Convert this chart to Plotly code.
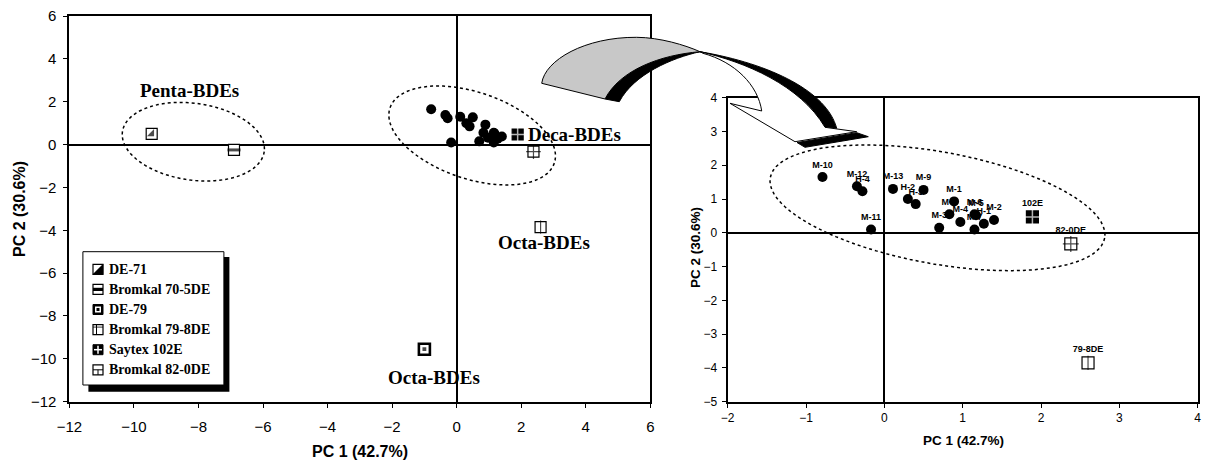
import math
import plotly.graph_objects as go

# ---------------- data ----------------
sample_labels = ["M-1", "M-2", "M-3", "M-4", "M-5", "M-6", "M-7", "M-8", "M-9",
                 "M-10", "M-11", "M-12", "M-13", "H-1", "H-2", "H-3", "H-4"]
sample_pc1 = [0.89, 1.40, 0.70, 0.97, 1.17, 1.15, 1.15, 0.83, 0.50,
              -0.79, -0.17, -0.35, 0.11, 1.27, 0.30, 0.40, -0.28]
sample_pc2 = [0.93, 0.38, 0.15, 0.32, 0.52, 0.55, 0.10, 0.55, 1.27,
              1.65, 0.10, 1.38, 1.30, 0.27, 1.00, 0.85, 1.23]

product_names = ["DE-71", "Bromkal 70-5DE", "DE-79", "Bromkal 79-8DE",
                 "Saytex 102E", "Bromkal 82-0DE"]
product_short = ["", "", "", "79-8DE", "102E", "82-0DE"]
product_pc1 = [-9.45, -6.90, -1.00, 2.60, 1.89, 2.38]
product_pc2 = [0.50, -0.25, -9.55, -3.85, 0.47, -0.33]

group_labels = ["Penta-BDEs", "Deca-BDEs", "Octa-BDEs", "Octa-BDEs"]
group_x = [-8.28, 3.65, 2.71, -0.69]
group_y = [2.51, 0.49, -4.56, -10.88]

left_x_ticks = [-12, -10, -8, -6, -4, -2, 0, 2, 4, 6]
left_y_ticks = [-12, -10, -8, -6, -4, -2, 0, 2, 4, 6]
right_x_ticks = [-2, -1, 0, 1, 2, 3, 4]
right_y_ticks = [-5, -4, -3, -2, -1, 0, 1, 2, 3, 4]

x_title = "PC 1 (42.7%)"
y_title = "PC 2 (30.6%)"

# ---------------- styles ----------------
# pattern style of each product's square (same order as product_names)
base_fill = ["white", "white", "white", "white", "black", "white"]
base_lw = [1.2, 1.2, 2.6, 1.2, 1.2, 1.2]
over_symbol = ["triangle-se", "line-ew", "square", "line-ns", "cross-thin", "cross-thin"]
over_color = ["black", "black", "black", "black", "white", "black"]
over_lw = [0, 3, 0, 1.2, 1.5, 1.2]
over_scale = [0.72, 0.85, 0.35, 0.85, 0.95, 0.95]
legend_kind = ["diag", "band", "ring", "vline", "checker", "cross"]

W, H = 1208, 463
L_PLOT = (69.4, 650.3, 16, 401.7)       # left, right, top, bottom (px)
R_PLOT = (727.7, 1197.7, 97.7, 401.7)


def dom_x(p):
    return [p[0] / W, p[1] / W]


def dom_y(p):
    return [1 - p[3] / H, 1 - p[2] / H]


def paper(x, y):
    return x / W, 1 - y / H


SANS = "Arial, Liberation Sans, sans-serif"
SERIF = "Times New Roman, Liberation Serif, serif"

fig = go.Figure()


def add_products(xa, ya, size):
    fig.add_trace(go.Scatter(
        x=product_pc1, y=product_pc2, mode="markers",
        marker=dict(symbol="square", size=size, color=base_fill,
                    line=dict(color="black", width=base_lw)),
        xaxis=xa, yaxis=ya, showlegend=False, hoverinfo="skip"))
    fig.add_trace(go.Scatter(
        x=product_pc1, y=product_pc2, mode="markers",
        marker=dict(symbol=over_symbol, size=[size * s for s in over_scale],
                    color=over_color,
                    line=dict(color=over_color, width=over_lw)),
        xaxis=xa, yaxis=ya, showlegend=False, hoverinfo="skip"))


# ---- left panel ----
fig.add_trace(go.Scatter(
    x=sample_pc1, y=sample_pc2, mode="markers",
    marker=dict(symbol="circle", size=10, color="black"),
    xaxis="x", yaxis="y", showlegend=False, hoverinfo="skip"))
add_products("x", "y", 11)

# ---- right panel ----
fig.add_trace(go.Scatter(
    x=sample_pc1, y=sample_pc2, mode="markers+text", text=sample_labels,
    textposition="top center",
    textfont=dict(family=SANS, size=9, color="black", weight="bold"),
    marker=dict(symbol="circle", size=10, color="black"),
    xaxis="x2", yaxis="y2", showlegend=False, hoverinfo="skip"))
add_products("x2", "y2", 12)
fig.add_trace(go.Scatter(
    x=product_pc1, y=product_pc2, mode="markers+text", text=product_short,
    textposition="top center",
    textfont=dict(family=SANS, size=9, color="black", weight="bold"),
    marker=dict(size=12, color="rgba(0,0,0,0)"),
    xaxis="x2", yaxis="y2", showlegend=False, hoverinfo="skip"))

axis_common = dict(showgrid=False, zeroline=True, zerolinecolor="black",
                   zerolinewidth=1.5, showline=True, linecolor="black",
                   linewidth=2, mirror=True, ticks="outside", ticklen=4,
                   tickcolor="black", tickwidth=1, automargin=False)

fig.update_layout(
    template="none",
    width=W, height=H,
    margin=dict(l=0, r=0, t=0, b=0, pad=0),
    paper_bgcolor="white", plot_bgcolor="white",
    showlegend=False,
    xaxis=dict(axis_common, domain=dom_x(L_PLOT), anchor="y", range=[-12, 6],
               tickvals=left_x_ticks, ticklabelstandoff=6,
               tickfont=dict(family=SANS, size=15, color="black")),
    yaxis=dict(axis_common, domain=dom_y(L_PLOT), anchor="x", range=[-12, 6],
               tickvals=left_y_ticks, ticklabelstandoff=4,
               tickfont=dict(family=SANS, size=15, color="black")),
    xaxis2=dict(axis_common, domain=dom_x(R_PLOT), anchor="y2", range=[-2, 4],
                tickvals=right_x_ticks,
                tickfont=dict(family=SANS, size=12, color="black")),
    yaxis2=dict(axis_common, domain=dom_y(R_PLOT), anchor="x2", range=[-5, 4],
                tickvals=right_y_ticks, ticklabelstandoff=2,
                tickfont=dict(family=SANS, size=12, color="black")),
)

annotations = []
# axis titles
for (px, py, txt, ang, fs) in [(360, 451.7, x_title, 0, 16),
                               (19, 209, y_title, -90, 16),
                               (963, 440, x_title, 0, 13.5),
                               (695, 248, y_title, -90, 13.5)]:
    ax_, ay_ = paper(px, py)
    annotations.append(dict(x=ax_, y=ay_, xref="paper", yref="paper",
                            text="<b>%s</b>" % txt, showarrow=False,
                            textangle=ang, xanchor="center", yanchor="middle",
                            font=dict(family=SANS, size=fs, color="black")))
# group labels
for lab, gx, gy in zip(group_labels, group_x, group_y):
    annotations.append(dict(x=gx, y=gy, xref="x", yref="y",
                            text="<b>%s</b>" % lab, showarrow=False,
                            xanchor="center", yanchor="middle",
                            font=dict(family=SERIF, size=19, color="black")))

shapes = []

# ---- manual legend ----
LEG_BOX = (82.9, 251.7, 223.9, 385.0)
LEG_SHADOW = (88.4, 257.0, 229.4, 391.7)
LEG_Y0, LEG_STEP = 269.3, 20.1
LEG_GX, LEG_TX = 98.0, 107.3
x0, y0 = paper(LEG_SHADOW[0], LEG_SHADOW[1])
x1, y1 = paper(LEG_SHADOW[2], LEG_SHADOW[3])
shapes.append(dict(type="rect", xref="paper", yref="paper", x0=x0, y0=y0,
                   x1=x1, y1=y1, fillcolor="black", line=dict(width=0),
                   layer="above"))
x0, y0 = paper(LEG_BOX[0], LEG_BOX[1])
x1, y1 = paper(LEG_BOX[2], LEG_BOX[3])
shapes.append(dict(type="rect", xref="paper", yref="paper", x0=x0, y0=y0,
                   x1=x1, y1=y1, fillcolor="white",
                   line=dict(color="black", width=1), layer="above"))


def prect(xa, ya, xb, yb, fill, lc="black", lw=0):
    a = paper(xa, ya)
    b = paper(xb, yb)
    return dict(type="rect", xref="paper", yref="paper", x0=a[0], y0=b[1],
                x1=b[0], y1=a[1], fillcolor=fill,
                line=dict(color=lc, width=lw), layer="above")


def pline(xa, ya, xb, yb, lc="black", lw=1):
    a = paper(xa, ya)
    b = paper(xb, yb)
    return dict(type="line", xref="paper", yref="paper", x0=a[0], y0=a[1],
                x1=b[0], y1=b[1], line=dict(color=lc, width=lw), layer="above")


def ppath(pts, fill, lc="black", lw=1, close=True):
    cs = ["%.5f,%.5f" % paper(px, py) for px, py in pts]
    p = "M " + " L ".join(cs) + (" Z" if close else "")
    return dict(type="path", xref="paper", yref="paper", path=p,
                fillcolor=fill, line=dict(color=lc, width=lw), layer="above")


def legend_glyph(kind, cx, cy, h=5.0):
    out = []
    if kind == "diag":
        out.append(prect(cx - h, cy - h, cx + h, cy + h, "white", "black", 1.2))
        out.append(ppath([(cx + h, cy - h), (cx + h, cy + h), (cx - h, cy + h)],
                         "black", "black", 0.5))
    elif kind == "band":
        out.append(prect(cx - h, cy - h, cx + h, cy + h, "white", "black", 1.2))
        out.append(prect(cx - h, cy - 1.6, cx + h, cy + 1.6, "black"))
    elif kind == "ring":
        out.append(prect(cx - h, cy - h, cx + h, cy + h, "black", "black", 1))
        out.append(prect(cx - h + 2, cy - h + 2, cx + h - 2, cy + h - 2, "white"))
        out.append(prect(cx - 1.5, cy - 1.5, cx + 1.5, cy + 1.5, "black"))
    elif kind == "vline":
        out.append(prect(cx - h, cy - h, cx + h, cy + h, "white", "black", 1.2))
        out.append(pline(cx - 1.5, cy - h, cx - 1.5, cy + h))
        out.append(pline(cx - h, cy - h + 2.5, cx + h, cy - h + 2.5, lw=0.8))
    elif kind == "checker":
        out.append(prect(cx - h, cy - h, cx + h, cy + h, "black", "black", 1))
        out.append(pline(cx, cy - h + 1, cx, cy + h - 1, "white", 1.5))
        out.append(pline(cx - h + 1, cy, cx + h - 1, cy, "white", 1.5))
    else:  # cross
        out.append(prect(cx - h, cy - h, cx + h, cy + h, "white", "black", 1.2))
        out.append(pline(cx - h, cy, cx + h, cy))
        out.append(pline(cx, cy, cx, cy + h))
    return out


for i, (nm, kind) in enumerate(zip(product_names, legend_kind)):
    yy = LEG_Y0 + i * LEG_STEP
    shapes.extend(legend_glyph(kind, LEG_GX, yy))
    tx, ty = paper(LEG_TX, yy)
    annotations.append(dict(x=tx, y=ty, xref="paper", yref="paper",
                            text="<b>%s</b>" % nm, showarrow=False,
                            xanchor="left", yanchor="middle",
                            font=dict(family=SERIF, size=14, color="black")))
fig.update_layout(annotations=annotations)


# ---- dotted ellipses ----
def ellipse_path(cx, cy, a, b, theta_deg, sx, sy, n=90):
    th = math.radians(theta_deg)
    pts = []
    for i in range(n):
        t = 2 * math.pi * i / n
        ex = a * math.cos(t) * math.cos(th) - b * math.sin(t) * math.sin(th)
        ey = a * math.cos(t) * math.sin(th) + b * math.sin(t) * math.cos(th)
        pts.append((cx + ex / sx, cy - ey / sy))
    return "M " + " L ".join("%.4f,%.4f" % p for p in pts) + " Z"


lsx = (L_PLOT[1] - L_PLOT[0]) / 18.0
lsy = (L_PLOT[3] - L_PLOT[2]) / 18.0
rsx = (R_PLOT[1] - R_PLOT[0]) / 6.0
rsy = (R_PLOT[3] - R_PLOT[2]) / 9.0
dotline = dict(color="black", width=1.5, dash="dot")
shapes.append(dict(type="path", xref="x", yref="y", line=dotline,
                   path=ellipse_path(-8.16, 0.134, 71.6, 38.4, 8.0, lsx, lsy)))
shapes.append(dict(type="path", xref="x", yref="y", line=dotline,
                   path=ellipse_path(0.48, 0.424, 86.7, 43.3, 18.6, lsx, lsy)))
shapes.append(dict(type="path", xref="x2", yref="y2", line=dotline,
                   path=ellipse_path(0.678, 0.74, 169.9, 56.0, 10.25, rsx, rsy)))


# ---- curved arrow linking the panels (pixel sketch) ----
def cpath(segs):
    out = []
    for cmd, pts in segs:
        if cmd == "Z":
            out.append("Z")
            continue
        cs = ["%.5f,%.5f" % paper(px, py) for px, py in pts]
        if cmd == "L":
            out.extend("L " + c for c in cs)
        else:
            out.append(cmd + " " + " ".join(cs))
    return " ".join(out)


gray_shadow = cpath([("M", [(605, 99)]),
                     ("C", [(620, 70), (660, 55), (700, 51.7)]),
                     ("C", [(672, 58), (634, 74), (619.3, 101.7)]),
                     ("Z", [])])
gray_face = cpath([("M", [(541.7, 83.3)]),
                   ("C", [(545, 60), (585, 37), (636.7, 37.3)]),
                   ("C", [(660, 37.5), (685, 45), (700, 51.7)]),
                   ("C", [(660, 55), (620, 70), (605, 99)]),
                   ("Z", [])])
back_shadow = cpath([("M", [(700, 51.7)]),
                     ("C", [(772, 64), (827, 92), (836.7, 128.3)]),
                     ("L", [(825, 127.3)]),
                     ("C", [(800, 85), (745, 62), (700, 51.7)]),
                     ("Z", [])])
back_face = cpath([("M", [(700, 51.7)]),
                   ("C", [(745, 62), (800, 85), (825, 127.3)]),
                   ("L", [(856.7, 131.7), (795, 141.7), (730, 103.3), (761.7, 111)]),
                   ("C", [(758, 85), (735, 62), (703, 53.3)]),
                   ("Z", [])])
head_shadow = cpath([("M", [(797, 142.5)]),
                     ("L", [(856.7, 132.7), (868.3, 136.7), (805, 147.3)]),
                     ("Z", [])])
for pth, fill in [(gray_shadow, "black"), (gray_face, "#c8c8c8"),
                  (back_shadow, "black"), (back_face, "white"),
                  (head_shadow, "black")]:
    shapes.append(dict(type="path", xref="paper", yref="paper", path=pth,
                       fillcolor=fill, line=dict(color="black", width=1),
                       layer="above"))

fig.update_layout(shapes=shapes)
fig.write_html("out.html", config={"displayModeBar": False},
               post_script="document.body.style.margin='0px';")
